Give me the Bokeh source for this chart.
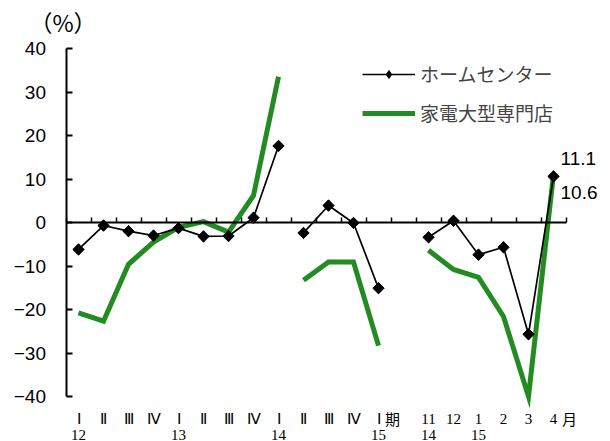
import numpy as np
from bokeh.plotting import figure
from bokeh.models import (Range1d, LinearAxis, FixedTicker, Legend, LegendItem,
                          ColumnDataSource, LabelSet, Label)
from bokeh.embed import file_html
from bokeh.resources import INLINE

# ---- data ----
row1_labels = ["Ⅰ", "Ⅱ", "Ⅲ", "Ⅳ", "Ⅰ", "Ⅱ", "Ⅲ", "Ⅳ", "Ⅰ", "Ⅱ", "Ⅲ", "Ⅳ", "Ⅰ", "",
               "11", "12", "1", "2", "3", "4"]
row2_labels = ["12", "", "", "", "13", "", "", "", "14", "", "", "", "15", "",
               "14", "", "15", "", "", ""]
period_unit = "期"
month_unit = "月"
segments = [(0, 8), (9, 12), (14, 19)]
home_center = [-6.2, -0.7, -2.0, -3.0, -1.3, -3.2, -3.1, 1.1, 17.6,
               -2.4, 3.9, -0.1, -15.1, None,
               -3.4, 0.4, -7.4, -5.7, -25.7, 10.6]
appliance = [-20.8, -22.7, -9.6, -4.5, -1.1, 0.2, -2.2, 6.2, 33.5,
             -13.3, -9.1, -9.1, -28.3, None,
             -6.4, -10.8, -12.6, -21.6, -40.0, 11.1]
y_ticks = [-40, -30, -20, -10, 0, 10, 20, 30, 40]
y_tick_labels = ["−40", "−30", "−20", "−10", "0", "10", "20", "30", "40"]
series_names = ["ホームセンター", "家電大型専門店"]
unit_label = "（%）"

NUM_FONT = "Liberation Sans"
JP_FONT = "Noto Sans CJK JP"
GREEN = "#228B22"

n = len(row1_labels)


def broken(vals):
    xs, ys = [], []
    for k, (a, b) in enumerate(segments):
        if k:
            xs.append(np.nan)
            ys.append(np.nan)
        xs += list(range(a, b + 1))
        ys += [float(v) for v in vals[a:b + 1]]
    return np.array(xs, dtype=float), np.array(ys, dtype=float)


W, H = 610, 441
# plot-area geometry (pixels) -> ranges that span the whole canvas
AX_LEFT, CAT_W = 65.5, 25.0
Y_TOP_PX, Y_BOT_PX = 48.0, 396.0
cat_lo, cat_hi = -0.5, n - 0.5
y_lo, y_hi = y_ticks[0], y_ticks[-1]
ppu = (Y_BOT_PX - Y_TOP_PX) / (y_hi - y_lo)
x_lo = cat_lo - AX_LEFT / CAT_W
x_hi = cat_lo + (W - AX_LEFT) / CAT_W
yr_hi = y_hi + Y_TOP_PX / ppu
yr_lo = y_lo - (H - Y_BOT_PX) / ppu

p = figure(width=W, height=H, x_range=Range1d(x_lo, x_hi), y_range=Range1d(yr_lo, yr_hi),
           output_backend="svg", toolbar_location=None,
           x_axis_location=None, y_axis_location=None, min_border=0)
p.grid.grid_line_color = None
p.outline_line_color = None
p.background_fill_color = "white"

# y axis
yax = LinearAxis(fixed_location=cat_lo, bounds=(y_lo, y_hi), ticker=FixedTicker(ticks=y_ticks),
                 major_label_overrides=dict(zip(y_ticks, y_tick_labels)),
                 major_tick_in=6, major_tick_out=0, minor_tick_line_color=None,
                 axis_line_width=2, major_tick_line_width=2,
                 major_label_text_font=NUM_FONT, major_label_text_font_size="19px",
                 major_label_text_color="black", major_label_standoff=20)
p.add_layout(yax, "left")

# zero line axis with category boundary ticks
zax = LinearAxis(fixed_location=0, bounds=(cat_lo, cat_hi),
                 ticker=FixedTicker(ticks=[i - 0.5 for i in range(n + 1)]),
                 major_tick_in=5, major_tick_out=0, minor_tick_line_color=None,
                 axis_line_width=2, major_tick_line_width=1.5,
                 major_label_text_font_size="0px", major_label_text_alpha=0)
p.add_layout(zax, "below")

# series
hx, hy = broken(home_center)
ax_, ay = broken(appliance)
gline = p.line(ax_, ay, line_color=GREEN, line_width=5, line_join="miter")
hline = p.line(hx, hy, line_color="black", line_width=1.7)
mask = ~np.isnan(hy)
# diamond used for the legend swatch; fully covered by the rotated square below
lmark = p.scatter(hx[mask], hy[mask], marker="diamond", size=11,
                  fill_color="black", line_color="black")
hmark = p.scatter(hx[mask], hy[mask], marker="square", size=8, angle=np.pi / 4,
                  fill_color="black", line_color="black")

legend = Legend(items=[LegendItem(label=series_names[0], renderers=[hline, lmark]),
                       LegendItem(label=series_names[1], renderers=[gline])],
                location=(362, 315), glyph_width=53, glyph_height=20, label_height=20,
                spacing=12, padding=0, margin=0, border_line_color=None,
                background_fill_alpha=0, label_text_font=JP_FONT,
                label_text_font_size="19px", label_standoff=5)
p.add_layout(legend)

# bottom category labels
src1 = ColumnDataSource(dict(x=list(range(n)), y=[y_lo] * n, t=row1_labels))
src2 = ColumnDataSource(dict(x=list(range(n)), y=[y_lo] * n, t=row2_labels))
p.add_layout(LabelSet(x="x", y="y", text="t", source=src1, y_offset=-22,
                      text_align="center", text_baseline="middle",
                      text_font=JP_FONT, text_font_size="15px", text_color="black"))
p.add_layout(LabelSet(x="x", y="y", text="t", source=src2, y_offset=-38,
                      text_align="center", text_baseline="middle",
                      text_font=JP_FONT, text_font_size="15px", text_color="black"))
p.add_layout(Label(x=12, y=y_lo, x_offset=14, y_offset=-22, text=period_unit,
                   text_align="center", text_baseline="middle",
                   text_font=JP_FONT, text_font_size="15px", text_color="black"))
p.add_layout(Label(x=n - 1, y=y_lo, x_offset=16, y_offset=-22, text=month_unit,
                   text_align="center", text_baseline="middle",
                   text_font=JP_FONT, text_font_size="15px", text_color="black"))

# unit label
p.add_layout(Label(x=cat_lo, y=y_hi, x_offset=-3, y_offset=27, text=unit_label,
                   text_align="center", text_baseline="middle",
                   text_font=JP_FONT, text_font_size="23px", text_color="black"))

# end value labels
last = n - 1
p.add_layout(Label(x=last, y=appliance[last], x_offset=7, y_offset=16,
                   text=f"{appliance[last]:.1f}", text_align="left", text_baseline="middle",
                   text_font=NUM_FONT, text_font_size="19px", text_color="black"))
p.add_layout(Label(x=last, y=home_center[last], x_offset=7, y_offset=-16,
                   text=f"{home_center[last]:.1f}", text_align="left", text_baseline="middle",
                   text_font=NUM_FONT, text_font_size="19px", text_color="black"))

open("out.html", "w").write(file_html(p, INLINE))
